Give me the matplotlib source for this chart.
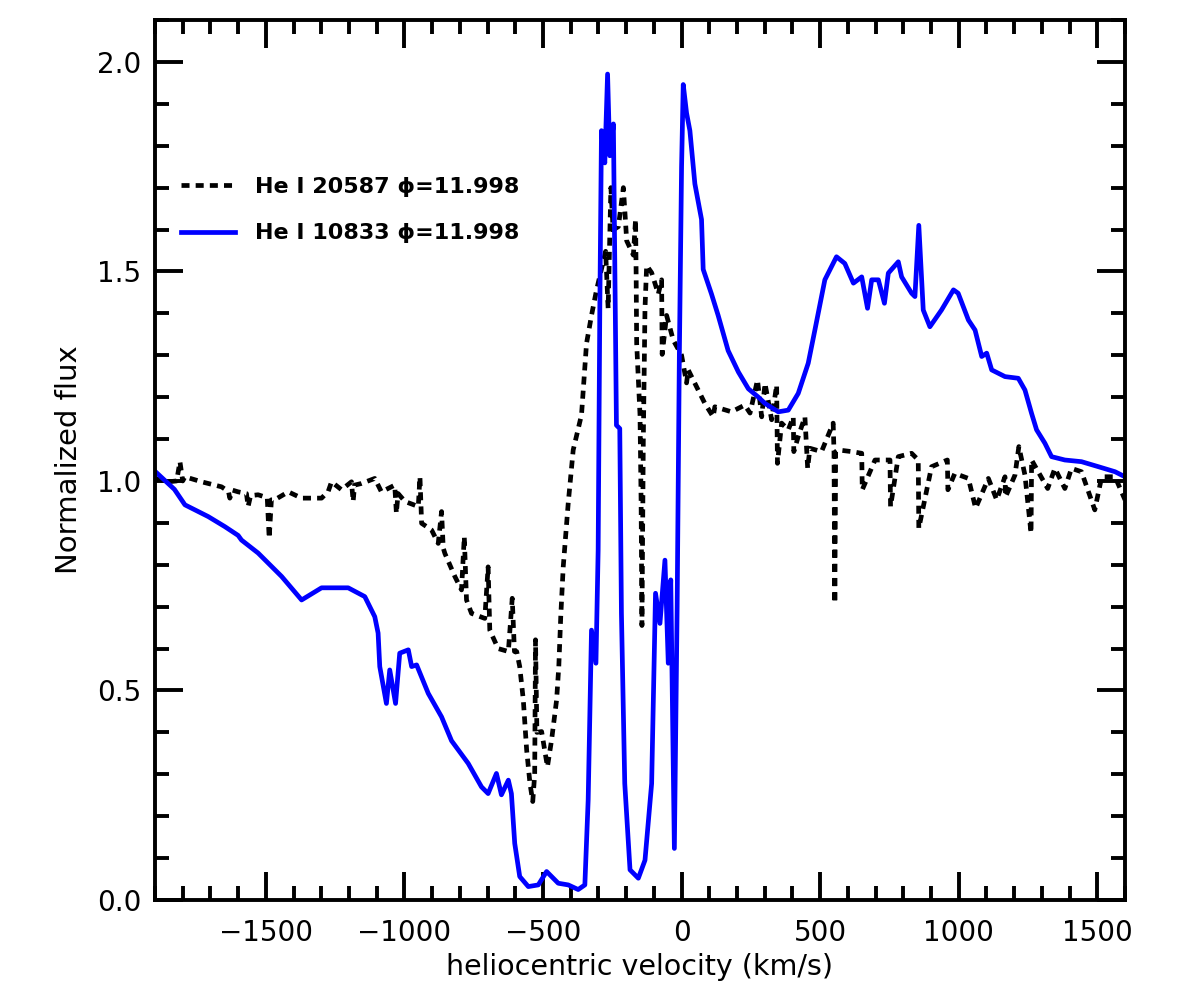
import numpy as np
import matplotlib
matplotlib.use("Agg")
import matplotlib.pyplot as plt
from matplotlib.ticker import MultipleLocator, FormatStrFormatter

# He I 10833 (blue, solid)
v_10833 = [-1895, -1830, -1792, -1708, -1648, -1600, -1588, -1528, -1443, -1371,
           -1299, -1203, -1143, -1107, -1095, -1089, -1065, -1053, -1032, -1017,
           -986, -974, -956, -914, -866, -830, -770, -722, -698, -668,
           -650, -625, -614, -602, -584, -553, -517, -487, -445, -409,
           -373, -349, -337, -325, -309, -301, -295, -289, -277, -267,
           -259, -246, -235, -223, -217, -205, -186, -156, -132, -108,
           -94, -78, -60, -48, -39, -26, -16, -8, 0, 6,
           18, 30, 48, 72, 78, 108, 132, 168, 205, 241,
           277, 301, 349, 385, 421, 457, 481, 517, 559, 589,
           620, 650, 671, 686, 710, 732, 746, 782, 794, 830,
           842, 856, 872, 896, 938, 981, 998, 1035, 1059, 1083,
           1101, 1119, 1167, 1215, 1239, 1263, 1281, 1311, 1335, 1383,
           1443, 1504, 1564, 1612]
f_10833 = [1.02, 0.98, 0.943, 0.915, 0.891, 0.87, 0.859, 0.828, 0.772, 0.716,
           0.745, 0.745, 0.724, 0.676, 0.637, 0.557, 0.469, 0.549, 0.469, 0.589,
           0.597, 0.557, 0.561, 0.493, 0.437, 0.38, 0.326, 0.27, 0.254, 0.302,
           0.251, 0.286, 0.254, 0.135, 0.056, 0.032, 0.036, 0.068, 0.04, 0.036,
           0.025, 0.036, 0.239, 0.644, 0.565, 0.835, 1.412, 1.836, 1.759, 1.971,
           1.776, 1.852, 1.133, 1.125, 0.684, 0.278, 0.072, 0.052, 0.095, 0.278,
           0.732, 0.66, 0.811, 0.565, 0.764, 0.123, 0.70, 1.30, 1.75, 1.946,
           1.878, 1.836, 1.709, 1.624, 1.505, 1.446, 1.395, 1.311, 1.26, 1.22,
           1.2, 1.185, 1.165, 1.169, 1.209, 1.281, 1.36, 1.48, 1.535, 1.519,
           1.472, 1.487, 1.412, 1.48, 1.48, 1.424, 1.496, 1.523, 1.487, 1.448,
           1.44, 1.61, 1.408, 1.368, 1.408, 1.456, 1.448, 1.384, 1.36, 1.297,
           1.305, 1.265, 1.249, 1.245, 1.217, 1.161, 1.122, 1.09, 1.058, 1.05,
           1.046, 1.034, 1.022, 1.006]

# He I 20587 (black, dashed)
v_20587 = [-1900, -1852, -1822, -1810, -1800, -1792, -1732, -1660, -1635, -1630,
           -1620, -1600, -1570, -1564, -1555, -1528, -1495, -1488, -1480, -1468,
           -1419, -1371, -1299, -1275, -1263, -1227, -1191, -1185, -1180, -1155,
           -1107, -1083, -1035, -1029, -1023, -998, -950, -944, -938, -902,
           -878, -866, -860, -854, -818, -794, -784, -776, -758, -710,
           -698, -692, -662, -625, -611, -603, -595, -584, -571, -559,
           -547, -537, -530, -527, -522, -505, -484, -469, -451, -443,
           -436, -427, -409, -391, -373, -361, -343, -325, -307, -283,
           -274, -265, -255, -247, -228, -210, -198, -174, -166, -164,
           -162, -150, -146, -143, -138, -132, -126, -108, -84, -72,
           -70, -54, -30, 0, 18, 24, 60, 84, 114, 120,
           180, 228, 247, 274, 289, 301, 325, 343, 346, 361,
           385, 403, 405, 421, 445, 455, 463, 505, 547, 550,
           553, 556, 565, 614, 650, 652, 698, 752, 754, 782,
           830, 854, 856, 902, 959, 961, 986, 1035, 1061, 1107,
           1137, 1167, 1169, 1203, 1217, 1239, 1261, 1263, 1287, 1321,
           1347, 1383, 1407, 1443, 1491, 1516, 1564, 1600]
f_20587 = [1.006, 0.998, 1.0, 1.046, 1.0, 1.01, 0.998, 0.986, 0.975, 0.959,
           0.978, 0.974, 0.97, 0.939, 0.965, 0.967, 0.96, 0.863, 0.955, 0.955,
           0.974, 0.959, 0.959, 0.975, 0.998, 0.979, 0.998, 0.951, 0.99, 0.994,
           1.006, 0.974, 0.99, 0.923, 0.97, 0.951, 0.939, 1.01, 0.899, 0.883,
           0.851, 0.927, 0.84, 0.827, 0.772, 0.74, 0.867, 0.716, 0.684, 0.672,
           0.795, 0.644, 0.6, 0.593, 0.72, 0.593, 0.593, 0.557, 0.477, 0.358,
           0.278, 0.235, 0.30, 0.621, 0.40, 0.402, 0.318, 0.382, 0.477, 0.557,
           0.676, 0.795, 0.947, 1.074, 1.125, 1.158, 1.328, 1.395, 1.455, 1.522,
           1.548, 1.412, 1.7, 1.599, 1.607, 1.7, 1.573, 1.539, 1.624, 1.497,
           1.328, 1.158, 0.95, 0.655, 1.10, 1.412, 1.514, 1.497, 1.446, 1.48,
           1.302, 1.395, 1.336, 1.30, 1.234, 1.265, 1.217, 1.185, 1.153, 1.177,
           1.165, 1.181, 1.162, 1.241, 1.153, 1.233, 1.146, 1.229, 1.042, 1.138,
           1.122, 1.153, 1.07, 1.106, 1.153, 1.03, 1.078, 1.07, 1.138, 1.07,
           0.708, 1.07, 1.074, 1.07, 1.066, 0.979, 1.05, 1.05, 0.939, 1.058,
           1.066, 1.05, 0.887, 1.034, 1.05, 0.979, 1.018, 1.006, 0.935, 1.006,
           0.955, 1.01, 0.962, 1.014, 1.082, 1.014, 0.875, 1.05, 1.022, 0.982,
           1.03, 0.982, 1.03, 1.022, 0.931, 1.01, 1.01, 0.955]

labels = ["He I 20587 \u03d5=11.998", "He I 10833 \u03d5=11.998"]

fig = plt.figure(figsize=(11.84, 10), dpi=100)
ax = fig.add_axes([155/1184, 0.1, 970/1184, 0.88])

ax.plot(v_20587, f_20587, color="black", lw=3.4, dashes=(1.7, 1.3), label=labels[0])
ax.plot(v_10833, f_10833, color="blue", lw=3.4, label=labels[1])

ax.set_xlim(-1900, 1600)
ax.set_ylim(0, 2.1)
ax.xaxis.set_major_locator(MultipleLocator(500))
ax.xaxis.set_minor_locator(MultipleLocator(100))
ax.yaxis.set_major_locator(MultipleLocator(0.5))
ax.yaxis.set_minor_locator(MultipleLocator(0.1))
ax.yaxis.set_major_formatter(FormatStrFormatter("%.1f"))

for s in ax.spines.values():
    s.set_linewidth(2.8)
ax.tick_params(which="both", direction="in", top=True, right=True, width=2.8)
ax.tick_params(which="major", length=20, labelsize=20)
ax.tick_params(which="minor", length=10)
ax.tick_params(axis="x", which="major", pad=14)
ax.tick_params(axis="y", which="major", pad=10)

ax.set_xlabel("heliocentric velocity (km/s)", fontsize=20.5, labelpad=4)
ax.set_ylabel("Normalized flux", fontsize=21, labelpad=10)

leg = ax.legend(loc="upper left", bbox_to_anchor=(0.027, 0.822), frameon=False,
                handlelength=2.4, handletextpad=0.9,
                borderpad=0, borderaxespad=0, labelspacing=1.2,
                prop={"weight": "bold", "size": 16})

fig.savefig("out.png", dpi=100)
